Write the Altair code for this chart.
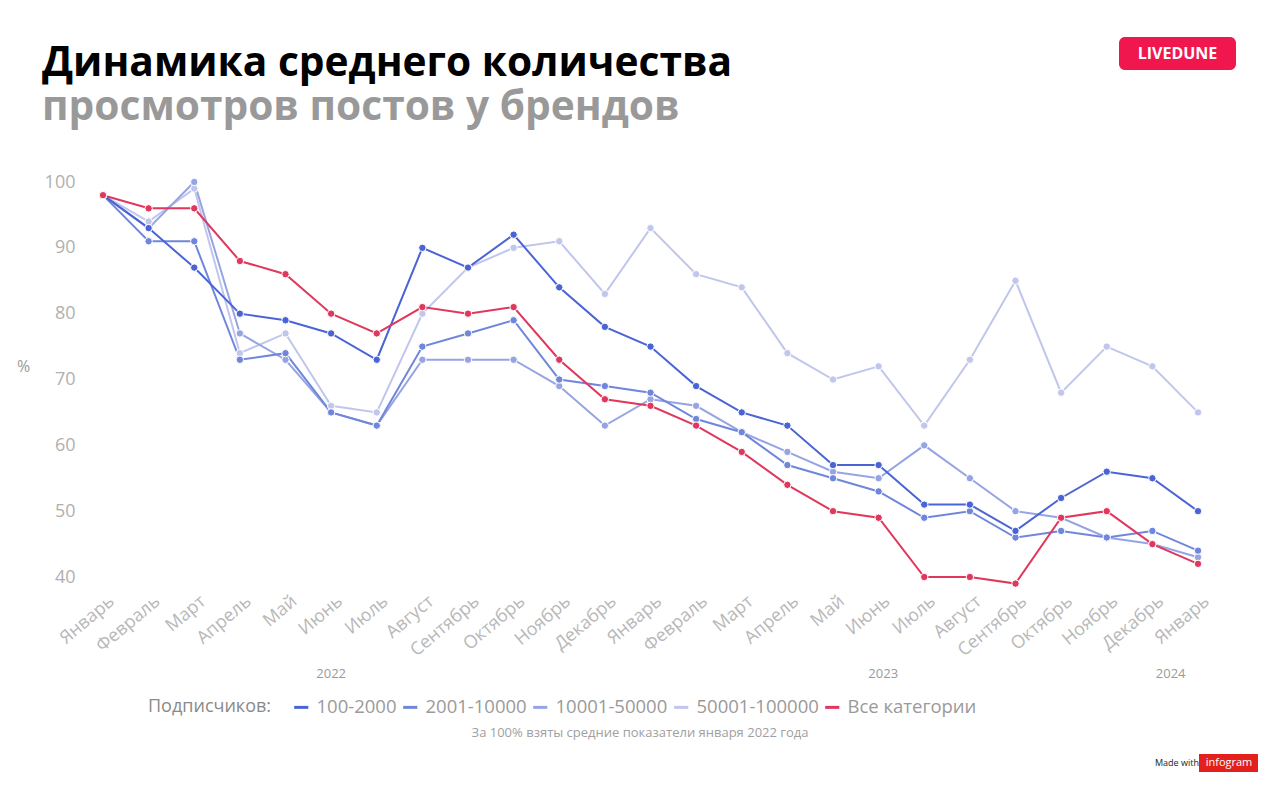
import altair as alt
import pandas as pd

months = ["Январь", "Февраль", "Март", "Апрель", "Май", "Июнь", "Июль", "Август",
          "Сентябрь", "Октябрь", "Ноябрь", "Декабрь",
          "Январь", "Февраль", "Март", "Апрель", "Май", "Июнь", "Июль", "Август",
          "Сентябрь", "Октябрь", "Ноябрь", "Декабрь", "Январь"]

series_names = ["100-2000", "2001-10000", "10001-50000", "50001-100000", "Все категории"]
series_colors = ["#4a64d6", "#6f86dc", "#97a4e4", "#c0c6ec", "#e0375c"]

s100_2000 = [98, 93, 87, 80, 79, 77, 73, 90, 87, 92, 84, 78, 75, 69, 65, 63, 57, 57, 51, 51, 47, 52, 56, 55, 50]
s2001_10000 = [98, 91, 91, 73, 74, 65, 63, 75, 77, 79, 70, 69, 68, 64, 62, 57, 55, 53, 49, 50, 46, 47, 46, 47, 44]
s10001_50000 = [98, 93, 100, 77, 73, 65, 63, 73, 73, 73, 69, 63, 67, 66, 62, 59, 56, 55, 60, 55, 50, 49, 46, 45, 43]
s50001_100000 = [98, 94, 99, 74, 77, 66, 65, 80, 87, 90, 91, 83, 93, 86, 84, 74, 70, 72, 63, 73, 85, 68, 75, 72, 65]
s_all = [98, 96, 96, 88, 86, 80, 77, 81, 80, 81, 73, 67, 66, 63, 59, 54, 50, 49, 40, 40, 39, 49, 50, 45, 42]

years = ["2022", "2023", "2024"]
year_label_at = [5, 17.1, 23.4]

title_1 = "Динамика среднего количества"
title_2 = "просмотров постов у брендов"
footnote = "За 100% взяты средние показатели января 2022 года"

FONT = "Open Sans"

# draw order: lightest first, red last (on top)
draw_order = ["50001-100000", "10001-50000", "2001-10000", "100-2000", "Все категории"]
values_by_name = {
    "100-2000": s100_2000,
    "2001-10000": s2001_10000,
    "10001-50000": s10001_50000,
    "50001-100000": s50001_100000,
    "Все категории": s_all,
}
rows = []
for name in draw_order:
    for i, v in enumerate(values_by_name[name]):
        rows.append({"idx": i, "value": v, "series": name, "order": draw_order.index(name)})
df = pd.DataFrame(rows)

label_expr = "[" + ",".join("'" + m + "'" for m in months) + "][datum.value]"

x_enc = alt.X("idx:Q",
              scale=alt.Scale(domain=[0, len(months) - 1], nice=False, zero=False),
              axis=alt.Axis(values=list(range(len(months))), labelExpr=label_expr,
                            labelAngle=-40, labelFontSize=18, labelColor="#b8b8b8",
                            labelFont=FONT, labelPadding=15, tickOffset=3,
                            ticks=False, domain=False,
                            grid=False, title=None, labelOverlap=False))
y_enc = alt.Y("value:Q",
              scale=alt.Scale(domain=[40, 100], nice=False, zero=False),
              axis=alt.Axis(values=[40, 50, 60, 70, 80, 90, 100], labelFontSize=18,
                            labelColor="#b0b0b0", labelFont=FONT, labelPadding=28,
                            ticks=False, domain=False, grid=False,
                            title="%", titleAngle=0, titleX=-80, titleY=184,
                            titleAlign="center", titleBaseline="middle",
                            titleFontSize=16, titleFontWeight="normal",
                            titleColor="#9a9a9a", titleFont=FONT))
color_enc = alt.Color("series:N",
                      scale=alt.Scale(domain=series_names, range=series_colors),
                      legend=alt.Legend(title="Подписчиков:", orient="none",
                                        legendX=45, legendY=516,
                                        direction="horizontal", titleOrient="left",
                                        symbolType="stroke", symbolStrokeWidth=3,
                                        symbolSize=200, labelFontSize=18.5,
                                        titleFontSize=18, titleFontWeight="normal",
                                        titleColor="#8a8a8a", labelColor="#9a9a9a",
                                        labelFont=FONT, titleFont=FONT,
                                        columnPadding=0, labelOffset=6, titlePadding=20,
                                        titleBaseline="middle"))

base = alt.Chart(df)
lines = base.mark_line(strokeWidth=2).encode(x=x_enc, y=y_enc, color=color_enc,
                                             order=alt.Order("idx:Q"))
points = base.mark_point(filled=True, size=55, opacity=1, stroke="white",
                         strokeWidth=1).encode(
    x="idx:Q", y="value:Q",
    fill=alt.Fill("series:N", scale=alt.Scale(domain=series_names, range=series_colors),
                  legend=None),
    order=alt.Order("order:Q"))

year_df = pd.DataFrame({"year": years, "pos": year_label_at})
year_text = alt.Chart(year_df).mark_text(font=FONT, fontSize=13, color="#9a9a9a",
                                         align="center", baseline="middle").encode(
    x="pos:Q", y=alt.value(492), text="year:N")

t1 = alt.Chart(pd.DataFrame({"t": [title_1]})).mark_text(
    font=FONT, fontSize=40.7, fontWeight="bold", color="#000000", align="left",
    baseline="alphabetic").encode(x=alt.value(-61), y=alt.value(-106), text="t:N")
t2 = alt.Chart(pd.DataFrame({"t": [title_2]})).mark_text(
    font=FONT, fontSize=40.7, fontWeight="bold", color="#999999", align="left",
    baseline="alphabetic").encode(x=alt.value(-61), y=alt.value(-62), text="t:N")

foot = alt.Chart(pd.DataFrame({"t": [footnote]})).mark_text(
    font=FONT, fontSize=13, color="#a0a0a0", align="center",
    baseline="middle").encode(x=alt.value(537), y=alt.value(551), text="t:N")

logo_box = alt.Chart(pd.DataFrame({"t": ["LIVEDUNE"]})).mark_rect(
    color="#f0174f", cornerRadius=6).encode(
    x=alt.value(1016), x2=alt.value(1133), y=alt.value(-145), y2=alt.value(-112))
logo_text = alt.Chart(pd.DataFrame({"t": ["LIVEDUNE"]})).mark_text(
    font=FONT, fontSize=16, fontWeight="bold", color="white", align="center",
    baseline="middle").encode(x=alt.value(1074.5), y=alt.value(-128.5), text="t:N")

made_text = alt.Chart(pd.DataFrame({"t": ["Made with"]})).mark_text(
    font=FONT, fontSize=9, color="#222222", align="left", baseline="middle").encode(
    x=alt.value(1052), y=alt.value(581), text="t:N")
ig_box = alt.Chart(pd.DataFrame({"t": ["infogram"]})).mark_rect(color="#e3201b").encode(
    x=alt.value(1096), x2=alt.value(1155), y=alt.value(572), y2=alt.value(590))
ig_text = alt.Chart(pd.DataFrame({"t": ["infogram"]})).mark_text(
    font=FONT, fontSize=11, color="white", align="center", baseline="middle").encode(
    x=alt.value(1126), y=alt.value(581), text="t:N")

chart = alt.layer(lines, points, year_text, t1, t2, foot, logo_box, logo_text,
                  made_text, ig_box, ig_text).properties(
    width=1095, height=395,
    background="white",
    autosize=alt.AutoSizeParams(type="none"),
    padding={"left": 95, "top": 174, "right": 70, "bottom": 200},
).configure_view(strokeWidth=0, stroke="transparent")

chart.save("out.html", embed_options={"renderer": "svg", "actions": False})
